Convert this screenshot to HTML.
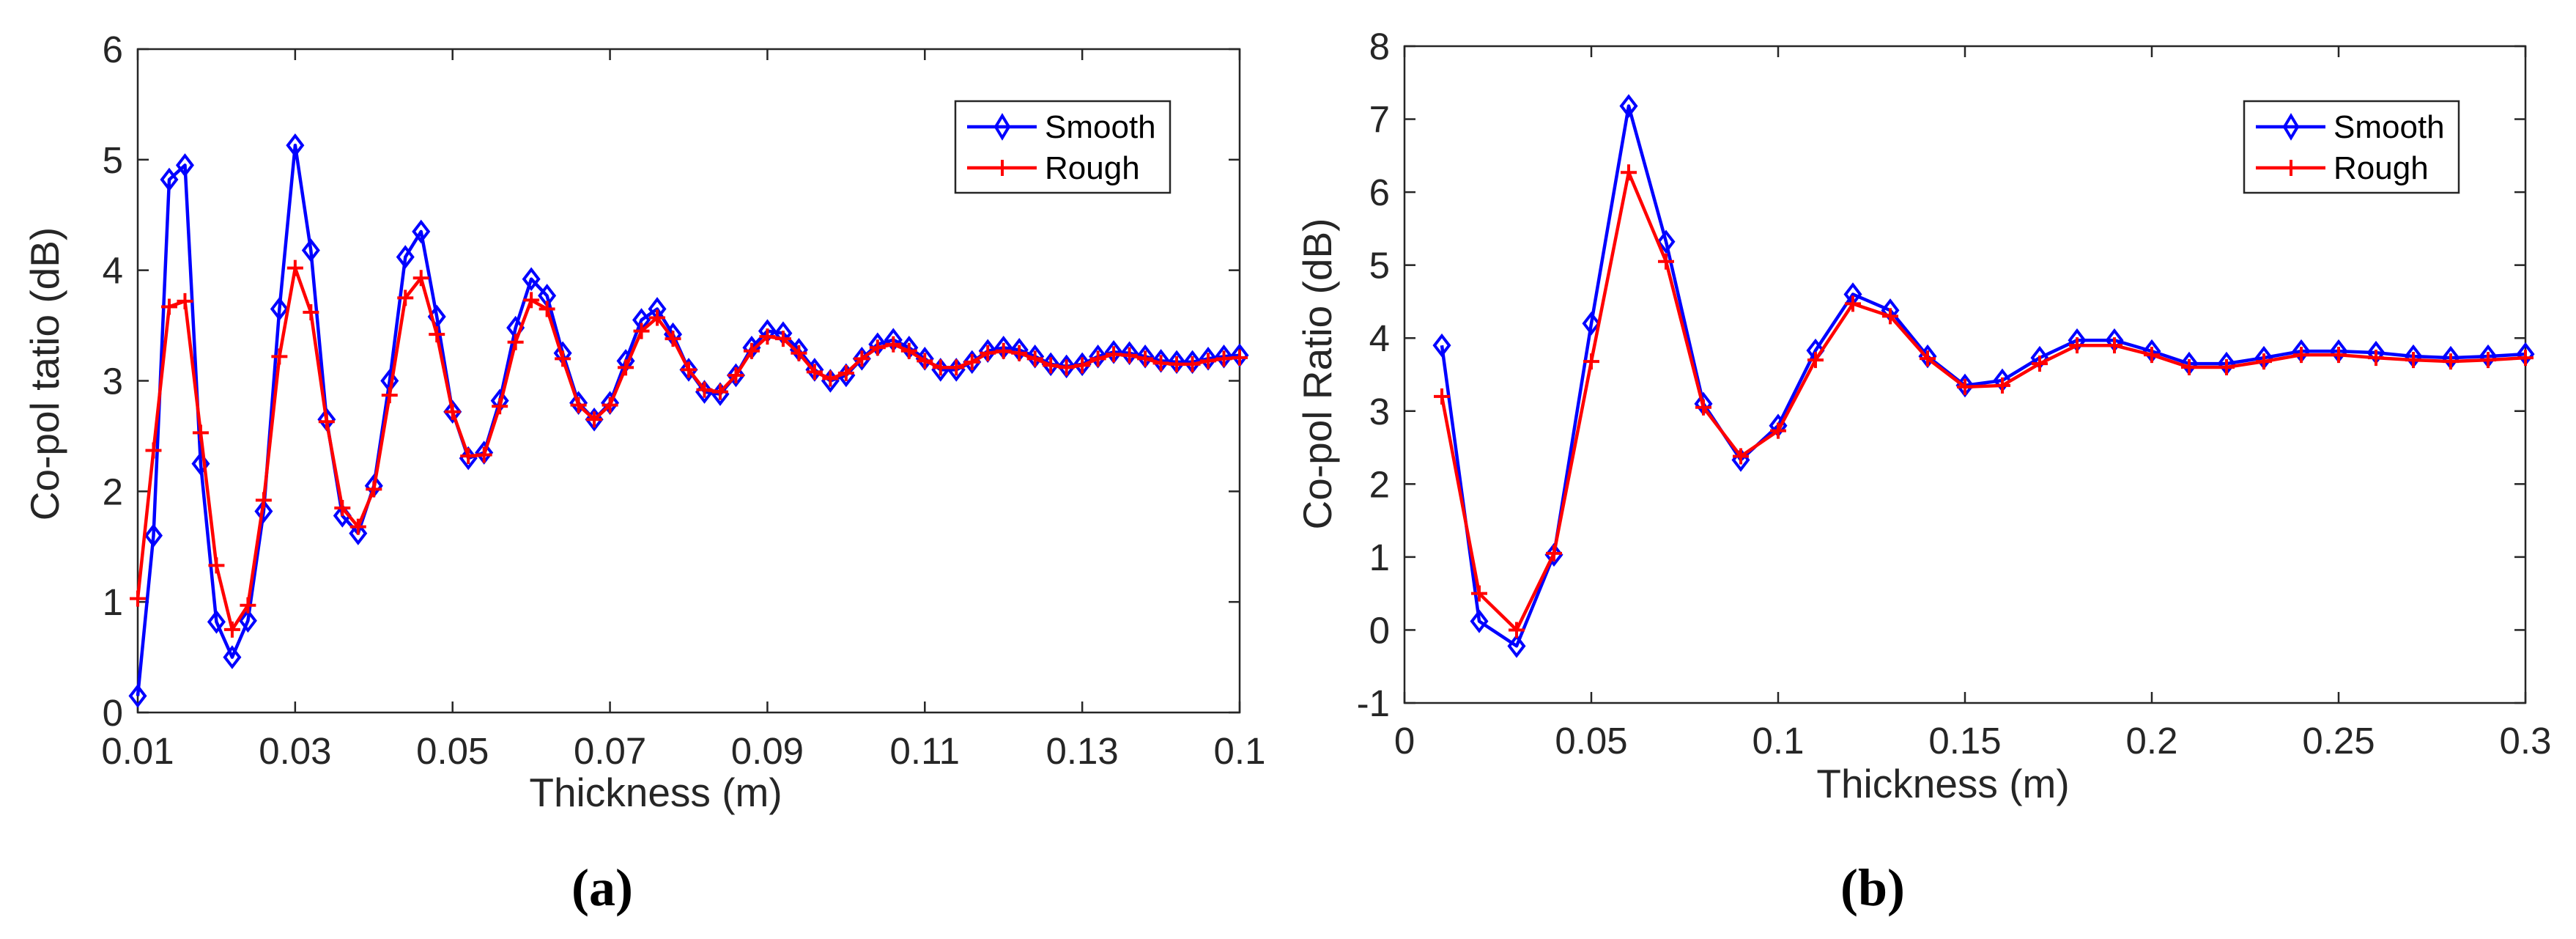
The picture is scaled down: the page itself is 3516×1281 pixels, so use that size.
<!DOCTYPE html>
<html><head><meta charset="utf-8"><style>
html,body{margin:0;padding:0;background:#fff;}
svg{display:block;}
text{font-family:"Liberation Sans",Arial,sans-serif;fill:#262626;}
</style></head><body>
<svg id="fig" width="3516" height="1281" viewBox="0 0 3516 1281" xmlns="http://www.w3.org/2000/svg"></svg>
<script>
// ---- Chart (a) data ----
const aXStart = 0.01;
const aXStep = 0.002;
const aSmooth = [0.15,1.6,4.82,4.95,2.25,0.82,0.5,0.83,1.82,3.65,5.13,4.18,2.65,1.78,1.62,2.05,3.0,4.12,4.35,3.58,2.72,2.3,2.35,2.82,3.48,3.92,3.77,3.25,2.8,2.65,2.8,3.18,3.55,3.65,3.42,3.1,2.9,2.88,3.05,3.3,3.45,3.43,3.28,3.1,3.0,3.05,3.2,3.33,3.37,3.3,3.2,3.1,3.1,3.17,3.27,3.3,3.28,3.22,3.15,3.13,3.15,3.22,3.26,3.25,3.22,3.18,3.17,3.17,3.2,3.22,3.23];
const aRough = [1.03,2.37,3.67,3.72,2.53,1.33,0.75,0.97,1.92,3.22,4.02,3.62,2.63,1.85,1.68,2.02,2.87,3.75,3.93,3.42,2.72,2.32,2.33,2.77,3.35,3.73,3.65,3.2,2.78,2.65,2.78,3.12,3.45,3.57,3.38,3.1,2.92,2.9,3.05,3.27,3.4,3.38,3.25,3.08,3.02,3.07,3.2,3.3,3.33,3.27,3.18,3.12,3.12,3.17,3.25,3.27,3.25,3.2,3.14,3.12,3.14,3.2,3.24,3.23,3.2,3.16,3.15,3.15,3.18,3.2,3.21];
const aXTicks = [0.01,0.03,0.05,0.07,0.09,0.11,0.13,0.15];
const aXTickLabels = ["0.01","0.03","0.05","0.07","0.09","0.11","0.13","0.1"];
const aYTicks = [0,1,2,3,4,5,6];
// ---- Chart (b) data ----
const bX = [0.01,0.02,0.03,0.04,0.05,0.06,0.07,0.08,0.09,0.1,0.11,0.12,0.13,0.14,0.15,0.16,0.17,0.18,0.19,0.2,0.21,0.22,0.23,0.24,0.25,0.26,0.27,0.28,0.29,0.3];
const bSmooth = [3.9,0.12,-0.22,1.03,4.2,7.18,5.32,3.1,2.33,2.8,3.83,4.6,4.38,3.75,3.35,3.42,3.73,3.97,3.97,3.82,3.65,3.65,3.73,3.82,3.82,3.8,3.75,3.73,3.75,3.78];
const bRough = [3.2,0.5,0.0,1.05,3.68,6.27,5.05,3.05,2.38,2.73,3.7,4.47,4.3,3.72,3.33,3.35,3.65,3.9,3.9,3.77,3.6,3.6,3.68,3.77,3.77,3.73,3.7,3.68,3.7,3.73];
const bXTicks = [0,0.05,0.1,0.15,0.2,0.25,0.3];
const bXTickLabels = ["0","0.05","0.1","0.15","0.2","0.25","0.3"];
const bYTicks = [-1,0,1,2,3,4,5,6,7,8];

const NS="http://www.w3.org/2000/svg";
const svg=document.getElementById('fig');
function mk(tag,attrs,parent){const e=document.createElementNS(NS,tag);for(const k in attrs)e.setAttribute(k,attrs[k]);(parent||svg).appendChild(e);return e;}

function chart(cfg){
  const g=mk('g',{});
  
  
  const {L,R,T,B,xmin,xmax,ymin,ymax}=cfg;
  const sx=v=>L+(v-xmin)/(xmax-xmin)*(R-L);
  const sy=v=>B-(v-ymin)/(ymax-ymin)*(B-T);
  const ax=mk('g',{},g);
  
  
  mk('rect',{x:L,y:T,width:R-L,height:B-T,fill:'none',stroke:'#262626','stroke-width':2.5},ax);
  cfg.xTicks.forEach((t,i)=>{
    const x=sx(t);
    mk('line',{x1:x,x2:x,y1:B,y2:B-15,stroke:'#262626','stroke-width':2.5},ax);
    mk('line',{x1:x,x2:x,y1:T,y2:T+15,stroke:'#262626','stroke-width':2.5},ax);
    const tx=mk('text',{x:x,y:cfg.xLabelY,'text-anchor':'middle','font-size':51},g);
    
    
    tx.textContent=cfg.xTickLabels[i];
  });
  cfg.yTicks.forEach(t=>{
    const y=sy(t);
    mk('line',{x1:L,x2:L+15,y1:y,y2:y,stroke:'#262626','stroke-width':2.5},ax);
    mk('line',{x1:R,x2:R-15,y1:y,y2:y,stroke:'#262626','stroke-width':2.5},ax);
    const tx=mk('text',{x:L-20,y:y+18,'text-anchor':'end','font-size':51},g);
    
    
    tx.textContent=String(t);
  });
  const xt=mk('text',{x:cfg.xTitleX,y:cfg.xTitleY,'text-anchor':'middle','font-size':55},g);
  
  
  xt.textContent='Thickness (m)';
  const yt=mk('text',{x:0,y:0,'text-anchor':'middle','font-size':55,transform:`translate(${cfg.yTitleX},${cfg.yTitleY}) rotate(-90)`},g);
  
  
  yt.textContent=cfg.yTitle;
  const cap=mk('text',{x:cfg.capX,y:1235,'text-anchor':'middle','font-size':72,'font-weight':'bold',style:'font-family:"Liberation Serif",serif;fill:#000'},g);
  
  
  cap.textContent=cfg.cap;
  // series
  function series(xs,ys,color,marker,name){
    const sg=mk('g',{},g);
    
    
    const pts=xs.map((x,i)=>sx(x).toFixed(1)+','+sy(ys[i]).toFixed(1)).join(' ');
    mk('polyline',{points:pts,fill:'none',stroke:color,'stroke-width':4.5,'stroke-linejoin':'round'},sg);
    xs.forEach((x,i)=>{
      const px=sx(x),py=sy(ys[i]);
      if(marker==='d'){
        const m=mk('polygon',{points:`${px},${py-13} ${px+10},${py} ${px},${py+13} ${px-10},${py}`,fill:'none',stroke:color,'stroke-width':4},sg);
        
        
      } else {
        const m=mk('path',{d:`M${px-11},${py}H${px+11}M${px},${py-11}V${py+11}`,stroke:color,'stroke-width':4},sg);
        
        
      }
    });
  }
  series(cfg.xs,cfg.smooth,'#0000ff','d','smooth-series');
  series(cfg.xs,cfg.rough,'#ff0000','p','rough-series');
  // legend
  const lg=mk('g',{},g);
  
  
  const lx=cfg.legX,ly=138;
  mk('rect',{x:lx,y:ly,width:293,height:125,fill:'#fff',stroke:'#262626','stroke-width':2.5},lg);
  const e1=mk('g',{},lg);
  
  
  mk('line',{x1:lx+16,x2:lx+111,y1:ly+35,y2:ly+35,stroke:'#0000ff','stroke-width':4.5},e1);
  mk('polygon',{points:`${lx+64},${ly+20} ${lx+73},${ly+35} ${lx+64},${ly+50} ${lx+55},${ly+35}`,fill:'none',stroke:'#0000ff','stroke-width':4},e1);
  const t1=mk('text',{x:lx+122,y:ly+50,'font-size':44,style:'fill:#000'},e1);t1.textContent='Smooth';
  const e2=mk('g',{},lg);
  
  
  mk('line',{x1:lx+16,x2:lx+111,y1:ly+91,y2:ly+91,stroke:'#ff0000','stroke-width':4.5},e2);
  mk('path',{d:`M${lx+64},${ly+80}V${ly+102}`,stroke:'#ff0000','stroke-width':4},e2);
  const t2=mk('text',{x:lx+122,y:ly+106,'font-size':44,style:'fill:#000'},e2);t2.textContent='Rough';
}

const aX=aSmooth.map((_,i)=>aXStart+i*aXStep);
chart({name:'chart-a',L:188,R:1692,T:67,B:972,xmin:0.01,xmax:0.15,ymin:0,ymax:6,
  xTicks:aXTicks,xTickLabels:aXTickLabels,yTicks:aYTicks,xLabelY:1042,
  xTitleX:895,xTitleY:1100,yTitleX:80,yTitleY:510,yTitle:'Co-pol tatio (dB)',
  capX:822,cap:'(a)',xs:aX,smooth:aSmooth,rough:aRough,legX:1304});
chart({name:'chart-b',L:1917,R:3447,T:63,B:959,xmin:0,xmax:0.3,ymin:-1,ymax:8,
  xTicks:bXTicks,xTickLabels:bXTickLabels,yTicks:bYTicks,xLabelY:1028,
  xTitleX:2652,xTitleY:1088,yTitleX:1817,yTitleY:510,yTitle:'Co-pol Ratio (dB)',
  capX:2556,cap:'(b)',xs:bX,smooth:bSmooth,rough:bRough,legX:3063});
</script>
</body></html>
